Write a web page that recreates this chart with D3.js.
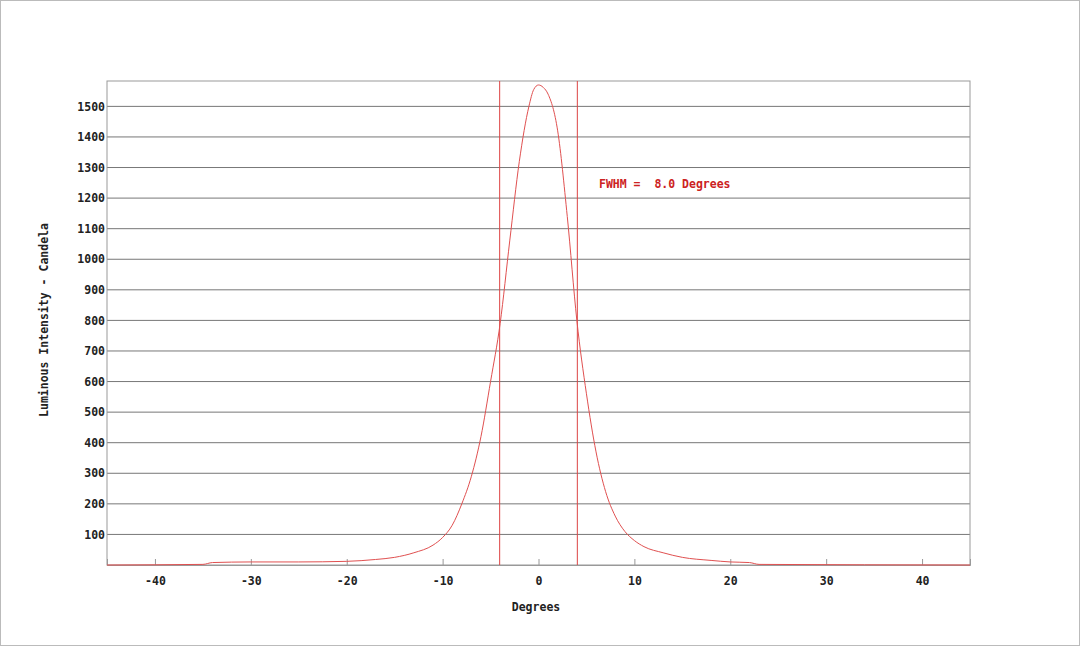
<!DOCTYPE html><html><head><script src="https://cdn.jsdelivr.net/npm/d3@7"></script>
<style>body{margin:0;background:#fff}text{font-family:"DejaVu Sans Mono",monospace;font-size:11.5px;font-weight:bold;fill:#222;white-space:pre}</style></head><body>
<svg id="c" width="1080" height="646"></svg>
<script>
const angles=[-45,-35,-34,-30,-25,-20,-17,-15,-13,-11,-10,-9,-8,-7,-6,-5,-4,-3,-2,-1,-0.5,0,0.5,1,2,3,4,5,6,7,8,9,10,11,13,15,18,20,22,23,45];
const candela=[0,2,8,10,10,12,18,25,40,65,90,130,200,290,420,600,790,1060,1320,1500,1555,1570,1562,1540,1420,1140,800,560,370,240,160,110,80,60,40,25,15,10,8,2,0];
const xTicks=[-40,-30,-20,-10,0,10,20,30,40];
const yTicks=[100,200,300,400,500,600,700,800,900,1000,1100,1200,1300,1400,1500];
const fwhmLines=[-4.05,4.05];
const fwhmLabel="FWHM =  8.0 Degrees";
const svg=d3.select("#c");
svg.append("rect").attr("x",0.5).attr("y",0.5).attr("width",1079).attr("height",645).attr("fill","none").attr("stroke","#bbb");
const L=107,R=970,T=81,B=565;
const x=d3.scaleLinear().domain([-45,45]).range([L,R]);
const y=d3.scaleLinear().domain([0,1583]).range([B,T]);
svg.append("g").selectAll("line").data(yTicks).join("line").attr("x1",L).attr("x2",R).attr("y1",d=>y(d)).attr("y2",d=>y(d)).attr("stroke","#777");
svg.append("rect").attr("x",L).attr("y",T).attr("width",R-L).attr("height",B-T).attr("fill","none").attr("stroke","#999");
svg.append("g").attr("transform",`translate(0,${B})`).call(d3.axisBottom(x).tickValues(xTicks).tickSize(-6).tickPadding(12).tickFormat(d=>d<0?"-"+(-d):String(d))).call(g=>{g.select(".domain").attr("stroke","#999");g.selectAll("line").attr("stroke","#999");g.selectAll("text").attr("font-family",null).attr("font-size",null)});
svg.append("g").attr("transform",`translate(${L},0)`).call(d3.axisLeft(y).tickValues(yTicks).tickSize(0).tickPadding(2).tickFormat(d=>String(d))).call(g=>{g.select(".domain").remove();g.selectAll("text").attr("font-family",null).attr("font-size",null)});
svg.append("g").selectAll("line").data(fwhmLines).join("line").attr("x1",d=>x(d)).attr("x2",d=>x(d)).attr("y1",T).attr("y2",B).attr("stroke","#d44").attr("stroke-width",1);
svg.append("path").datum(angles.map((a,i)=>[a,candela[i]])).attr("d",d3.line().x(d=>x(d[0])).y(d=>y(d[1])).curve(d3.curveMonotoneX)).attr("fill","none").attr("stroke","#e05050").attr("stroke-width",1);
svg.append("text").attr("x",599).attr("y",188).style("fill","#c22").text(fwhmLabel);
svg.append("text").attr("x",536).attr("y",611).attr("text-anchor","middle").text("Degrees");
svg.append("text").attr("transform","translate(48,320) rotate(-90)").attr("text-anchor","middle").text("Luminous Intensity - Candela");
</script></body></html>
